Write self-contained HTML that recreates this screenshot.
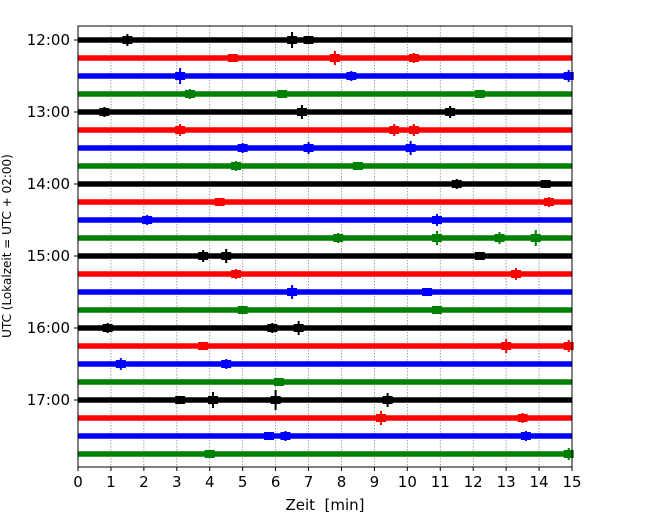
<!DOCTYPE html>
<html><head><meta charset="utf-8"><style>
body{margin:0;background:#fff}
svg text{font-family:"DejaVu Sans","Liberation Sans",sans-serif;fill:#000}
</style></head><body>
<svg id="chart" width="650" height="520" xmlns="http://www.w3.org/2000/svg">
<rect x="0" y="0" width="650" height="520" fill="#fff"/>
<g id="grid"></g><g id="traces"></g><g id="axes"></g>
</svg>
<script>
const xTicks=[0,1,2,3,4,5,6,7,8,9,10,11,12,13,14,15];
const hourLabels=["12:00","13:00","14:00","15:00","16:00","17:00"];
const traceCount=24;
const traceColors=["#000000","#ff0000","#0000ff","#008000"];
const events=[[0,1.5,6],[0,6.5,8],[0,7,4],[1,4.7,4],[1,7.8,7],[1,10.2,5],[2,3.1,8],[2,8.3,5],[2,14.9,6],[3,3.4,5],[3,6.2,4],[3,12.2,4],[4,0.8,5],[4,6.8,7],[4,11.3,6],[5,3.1,6],[5,9.6,6],[5,10.2,6],[6,5,5],[6,7,6],[6,10.1,7],[7,4.8,5],[7,8.5,4],[8,11.5,5],[8,14.2,4],[9,4.3,4],[9,14.3,5],[10,2.1,5],[10,10.9,6],[11,7.9,5],[11,10.9,7],[11,12.8,6],[11,13.9,8],[12,3.8,6],[12,4.5,7],[12,12.2,4],[13,4.8,5],[13,13.3,6],[14,6.5,7],[14,10.6,4],[15,5,4],[15,10.9,4],[16,0.9,5],[16,5.9,5],[16,6.7,7],[17,3.8,4],[17,13,7],[17,14.9,6],[18,1.3,6],[18,4.5,5],[19,6.1,4],[20,3.1,4],[20,4.1,8],[20,6,10],[20,9.4,7],[21,9.2,7],[21,13.5,5],[22,5.8,4],[22,6.3,5],[22,13.6,5],[23,4.0,4],[23,14.9,6]];
const L=78,R=572,T=26,B=467,y0=40,dy=18;
const xs=m=>L+(R-L)*m/15;
const ys=i=>y0+dy*i;
const NS="http://www.w3.org/2000/svg";
function mk(tag,attrs,parent){const e=document.createElementNS(NS,tag);for(const k in attrs)e.setAttribute(k,attrs[k]);parent.appendChild(e);return e;}
const grid=document.getElementById('grid'),tr=document.getElementById('traces'),ax=document.getElementById('axes');
xTicks.forEach(t=>{
  if(t>0&&t<15){const g=mk('line',{x1:xs(t),x2:xs(t),y1:T,y2:B,stroke:'#888','stroke-width':0.8,'stroke-dasharray':'1.5,1.5'},grid);
  
  }
});
for(let i=0;i<traceCount;i++){
  const l=mk('line',{x1:L,x2:R,y1:ys(i),y2:ys(i),stroke:traceColors[i%4],'stroke-width':5.5},tr);
  
  
}
events.forEach(e=>{
  const c=traceColors[e[0]%4];
  const h=mk('rect',{x:xs(e[1])-5,width:10,y:ys(e[0])-4,height:8,fill:c},tr);
  
  
  const p=mk('rect',{x:xs(e[1])-1,width:2,y:ys(e[0])-e[2],height:2*e[2],fill:c},tr);
  
  
});
const fr=mk('rect',{x:L,y:T,width:R-L,height:B-T,fill:'none',stroke:'#000','stroke-width':1},ax);


xTicks.forEach(t=>{
  mk('line',{x1:xs(t),x2:xs(t),y1:B,y2:B+4,stroke:'#000'},ax);
  const tx=mk('text',{x:xs(t),y:B+20,'text-anchor':'middle','font-size':15},ax);
  tx.textContent=t;
  
  
});
hourLabels.forEach((h,k)=>{
  const y=ys(k*4);
  mk('line',{x1:L-4,x2:L,y1:y,y2:y,stroke:'#000'},ax);
  const tx=mk('text',{x:L-8,y:y+5,'text-anchor':'end','font-size':15},ax);
  tx.textContent=h;
  
  
});
const xt=mk('text',{x:(L+R)/2,y:510,'text-anchor':'middle','font-size':15,style:'white-space:pre'},ax);
xt.textContent='Zeit  [min]';


const yt=mk('text',{x:0,y:0,'text-anchor':'middle','font-size':12,transform:'translate(11,246) rotate(-90)'},ax);
yt.textContent='UTC (Lokalzeit = UTC + 02:00)';


</script>
</body></html>
